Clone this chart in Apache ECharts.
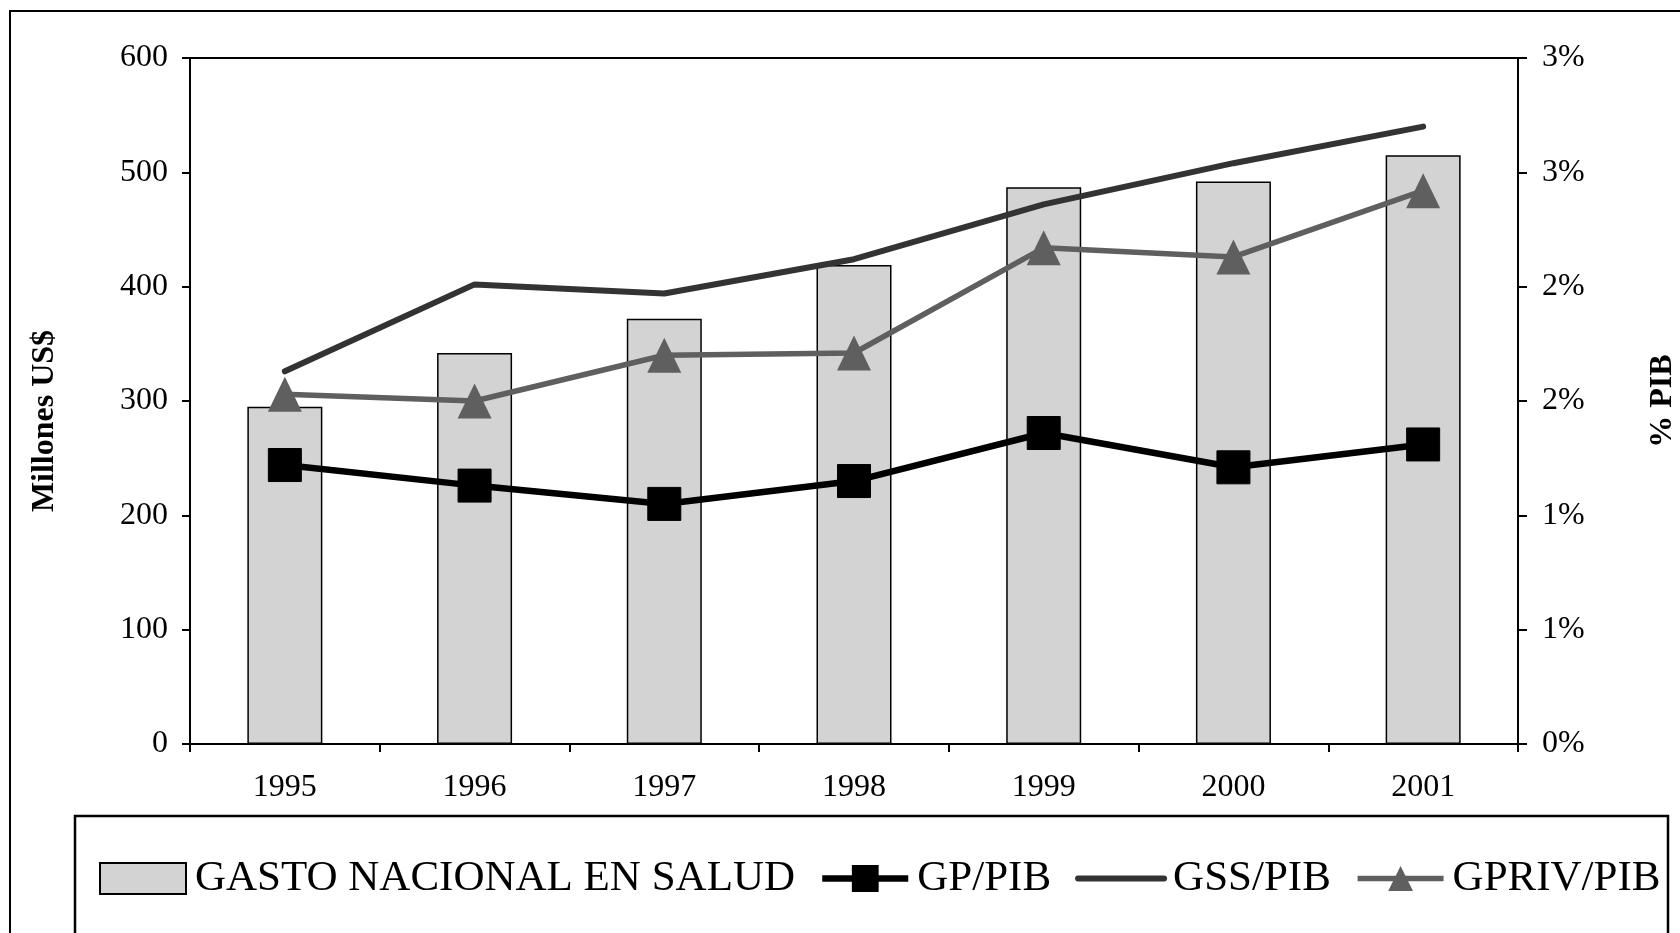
<!DOCTYPE html>
<html>
<head>
<meta charset="utf-8">
<script src="https://cdn.jsdelivr.net/npm/echarts@6/dist/echarts.min.js"></script>
<style>
  html, body { margin: 0; padding: 0; background: #fff; }
  #chart { width: 1680px; height: 933px; }
</style>
</head>
<body>
<div id="chart"></div>
<script>
// data
const years = ['1995', '1996', '1997', '1998', '1999', '2000', '2001']
const gastoNacional = [295, 342, 372, 419, 487, 492, 515] // millones US$
const gpPib = [1.22, 1.13, 1.05, 1.15, 1.36, 1.21, 1.31] // % PIB
const gssPib = [1.63, 2.01, 1.97, 2.12, 2.36, 2.54, 2.7]
const gprivPib = [1.53, 1.5, 1.7, 1.71, 2.17, 2.13, 2.42]

const leftTicks = [0, 100, 200, 300, 400, 500, 600]
const rightTicks = [0, 0.5, 1, 1.5, 2, 2.5, 3]

const seriesNames = ['GASTO NACIONAL EN SALUD', 'GP/PIB', 'GSS/PIB', 'GPRIV/PIB']

const font = 'Liberation Serif, Times New Roman, serif'

const chart = echarts.init(document.getElementById('chart'))

chart.setOption({
  animation: false,
  textStyle: { fontFamily: font },
  grid: {
    left: 190,
    right: 162,
    top: 58,
    bottom: 189,
    show: true,
    borderColor: '#000',
    borderWidth: 2,
  },
  legend: {
    data: [
      { name: seriesNames[0], icon: 'rect' },
      { name: seriesNames[1] },
      { name: seriesNames[2], itemStyle: { opacity: 0 } },
      { name: seriesNames[3] },
    ],
    left: 94,
    top: 852,
    itemWidth: 86,
    itemHeight: 31,
    itemGap: 24,
    lineStyle: { width: 'inherit' },
    textStyle: { fontFamily: font, fontSize: 43, color: '#000', padding: [0, 0, 0, 4] },
  },
  graphic: [
    {
      type: 'rect',
      shape: { x: 10, y: 11, width: 1720, height: 1000 },
      style: { fill: 'none', stroke: '#000', lineWidth: 2 },
      silent: true,
    },
    {
      type: 'rect',
      shape: { x: 75, y: 816, width: 1593, height: 200 },
      style: { fill: 'none', stroke: '#000', lineWidth: 2.5 },
      silent: true,
    },
    {
      type: 'text',
      x: 45,
      y: 421,
      rotation: Math.PI / 2,
      style: {
        text: 'Millones US$',
        font: 'bold 32px ' + font,
        fill: '#000',
        align: 'center',
        verticalAlign: 'middle',
      },
    },
    {
      type: 'text',
      x: 1663,
      y: 401,
      rotation: Math.PI / 2,
      style: {
        text: '% PIB',
        font: 'bold 32px ' + font,
        fill: '#000',
        align: 'center',
        verticalAlign: 'middle',
      },
    },
  ],
  xAxis: {
    type: 'category',
    data: years,
    boundaryGap: true,
    axisLine: { lineStyle: { color: '#000', width: 2 } },
    axisTick: { show: true, length: 8, lineStyle: { color: '#000', width: 2 } },
    axisLabel: { color: '#000', fontSize: 32, margin: 28, fontFamily: font },
  },
  yAxis: [
    {
      type: 'value',
      min: leftTicks[0],
      max: leftTicks[leftTicks.length - 1],
      interval: leftTicks[1] - leftTicks[0],
      axisLine: { show: true, lineStyle: { color: '#000', width: 2 } },
      axisTick: { show: true, length: 8, lineStyle: { color: '#000', width: 2 } },
      axisLabel: { color: '#000', fontSize: 32, margin: 22, fontFamily: font },
      splitLine: { show: false },
    },
    {
      type: 'value',
      position: 'right',
      min: rightTicks[0],
      max: rightTicks[rightTicks.length - 1],
      interval: rightTicks[1] - rightTicks[0],
      axisLine: { show: true, lineStyle: { color: '#000', width: 2 } },
      axisTick: { show: true, length: 9, lineStyle: { color: '#000', width: 2 } },
      axisLabel: {
        color: '#000',
        fontSize: 32,
        margin: 24,
        fontFamily: font,
        formatter: (v) => Math.round(v) + '%',
      },
      splitLine: { show: false },
    },
  ],
  series: [
    {
      name: seriesNames[0],
      type: 'bar',
      data: gastoNacional,
      barWidth: 75,
      itemStyle: { color: '#d3d3d3', borderColor: '#000', borderWidth: 1.5 },
    },
    {
      name: seriesNames[1],
      type: 'line',
      yAxisIndex: 1,
      data: gpPib,
      symbol: 'rect',
      symbolSize: 33,
      lineStyle: { color: '#000', width: 6.5 },
      itemStyle: { color: '#000', borderColor: '#000', borderWidth: 1 },
      z: 3,
    },
    {
      name: seriesNames[2],
      type: 'line',
      yAxisIndex: 1,
      data: gssPib,
      symbol: 'none',
      lineStyle: { color: '#333333', width: 6, cap: 'round' },
      itemStyle: { color: '#333333' },
      z: 2,
    },
    {
      name: seriesNames[3],
      type: 'line',
      yAxisIndex: 1,
      data: gprivPib,
      symbol: 'triangle',
      symbolSize: [34, 35],
      lineStyle: { color: '#5f5f5f', width: 5.5 },
      itemStyle: { color: '#5f5f5f' },
      z: 4,
    },
  ],
})
</script>
</body>
</html>
